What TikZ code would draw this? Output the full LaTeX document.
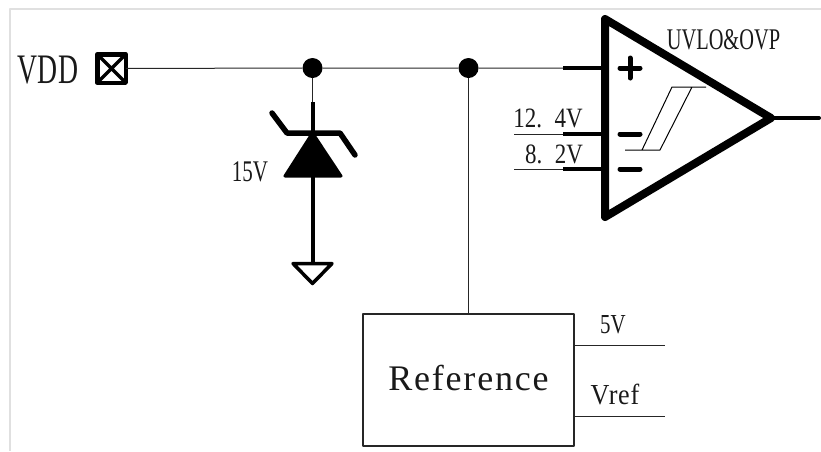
\documentclass[tikz,border=0pt]{standalone}
\usepackage{fontspec}
\setmainfont{Liberation Serif}
\tikzset{
  lab/.style n args={2}{font=\fontsize{#1}{#1}\selectfont\rmfamily, inner sep=0pt, anchor=base, transform shape, xscale=#2, text=black!90},
  wire/.style={line width=1pt, draw=black!85},
  thick wire/.style={line width=4pt, draw=black},
  dotnode/.style={circle, fill=black, inner sep=0pt, minimum size=20pt},
  refbox/.style={draw=black!85, line width=1.1pt, fill=white, inner sep=0pt, outer sep=0pt, minimum width=211pt, minimum height=132pt},
  padbox/.style={draw=black, line width=4.5pt, inner sep=0pt, outer sep=0pt, minimum size=28.5pt}
}
\begin{document}
\begin{tikzpicture}[x=1pt,y=-1pt,line join=round]
\useasboundingbox (0,0) rectangle (821,451);
\draw[line width=2pt,draw=black!12] (10,451) -- (10,8.5) -- (821,8.5);

% pad
\node[padbox] (vdd) at (111.5,68.5) {};
\draw[line width=3.2pt] (vdd.north west) -- (vdd.south east) (vdd.north east) -- (vdd.south west);
\node[lab={42}{.66}] (vddt) at (48,83) {VDD};

% junctions
\node[dotnode] (j1) at (312.5,68) {};
\node[dotnode] (j2) at (468.5,68) {};
\coordinate (pinp) at (563,68);
\draw[wire] (vdd) -- (j1) -- (j2) -- (pinp);

% zener
\coordinate (zt) at (312.5,102);
\coordinate (zb) at (312.5,262);
\coordinate (zk) at (312.5,133);
\draw[wire] (j1) -- (zt);
\draw[thick wire] (zt) -- (zb);
\fill[draw=black,line width=3pt,fill=black] (zk) -- (341,176) -- (285,176) -- cycle;
\draw[line width=5.5pt,line cap=round] (272,113) -- (287,133) -- (340,133) -- (355,155);
\node[lab={30}{.7}] (zl) at (250,181) {15V};

% ground
\draw[line width=3.5pt,fill=white] (zb) ++(-19.5,1.5) -- ++(39,0) -- ++(-19.5,20) -- cycle;

% comparator
\coordinate (ot) at (605,19);
\coordinate (ob) at (605,217);
\coordinate (oo) at (771,118);
\coordinate (pinm) at (563,134);
\coordinate (pinl) at (563,169);
\coordinate (in1) at (514,134);
\coordinate (in2) at (514,169);
\coordinate (out) at (819,118);
\draw[thick wire] (pinp) -- (605,68);
\draw[wire] (in1) -- (pinm);
\draw[wire] (in2) -- (pinl);
\draw[thick wire] (pinm) -- (605,134);
\draw[thick wire] (pinl) -- (605,169);
\draw[line width=8pt] (ot) -- (oo) -- (ob) -- cycle;
\draw[thick wire,line cap=round] (oo) -- (out);
\draw[line width=5pt,line cap=round] (620,68) -- (640,68) (630,58) -- (630,78);
\draw[line width=5pt,line cap=round] (620,134) -- (640,134);
\draw[line width=5pt,line cap=round] (620,169) -- (640,169);
\draw[line width=1pt] (625,150) -- (660,150) -- (692,87) (642,150) -- (672,87) -- (706,87);
\node[lab={30}{.68}] (ol) at (723.5,49) {UVLO\&OVP};
\node[lab={28}{.82}] (v1) at (548,127) {12.\kern.55em 4V};
\node[lab={28}{.82}] (v2) at (554,163) {8.\kern.55em 2V};

% reference
\node[refbox] (ref) at (468.5,380) {};
\node[lab={36}{1}] (reft) at (468.5,390) {\addfontfeature{LetterSpace=5}Reference};
\draw[wire] (j2) -- (ref.north -| j2);
\coordinate (o1) at (665,345);
\coordinate (o2) at (665,416);
\draw[wire] (ref.east |- o1) -- (o1);
\draw[wire] (ref.east |- o2) -- (o2);
\node[lab={27.5}{.76}] (l5) at (613,333) {5V};
\node[lab={29}{.9}] (lr) at (615,404) {\addfontfeature{LetterSpace=3}Vref};
\end{tikzpicture}
\end{document}
